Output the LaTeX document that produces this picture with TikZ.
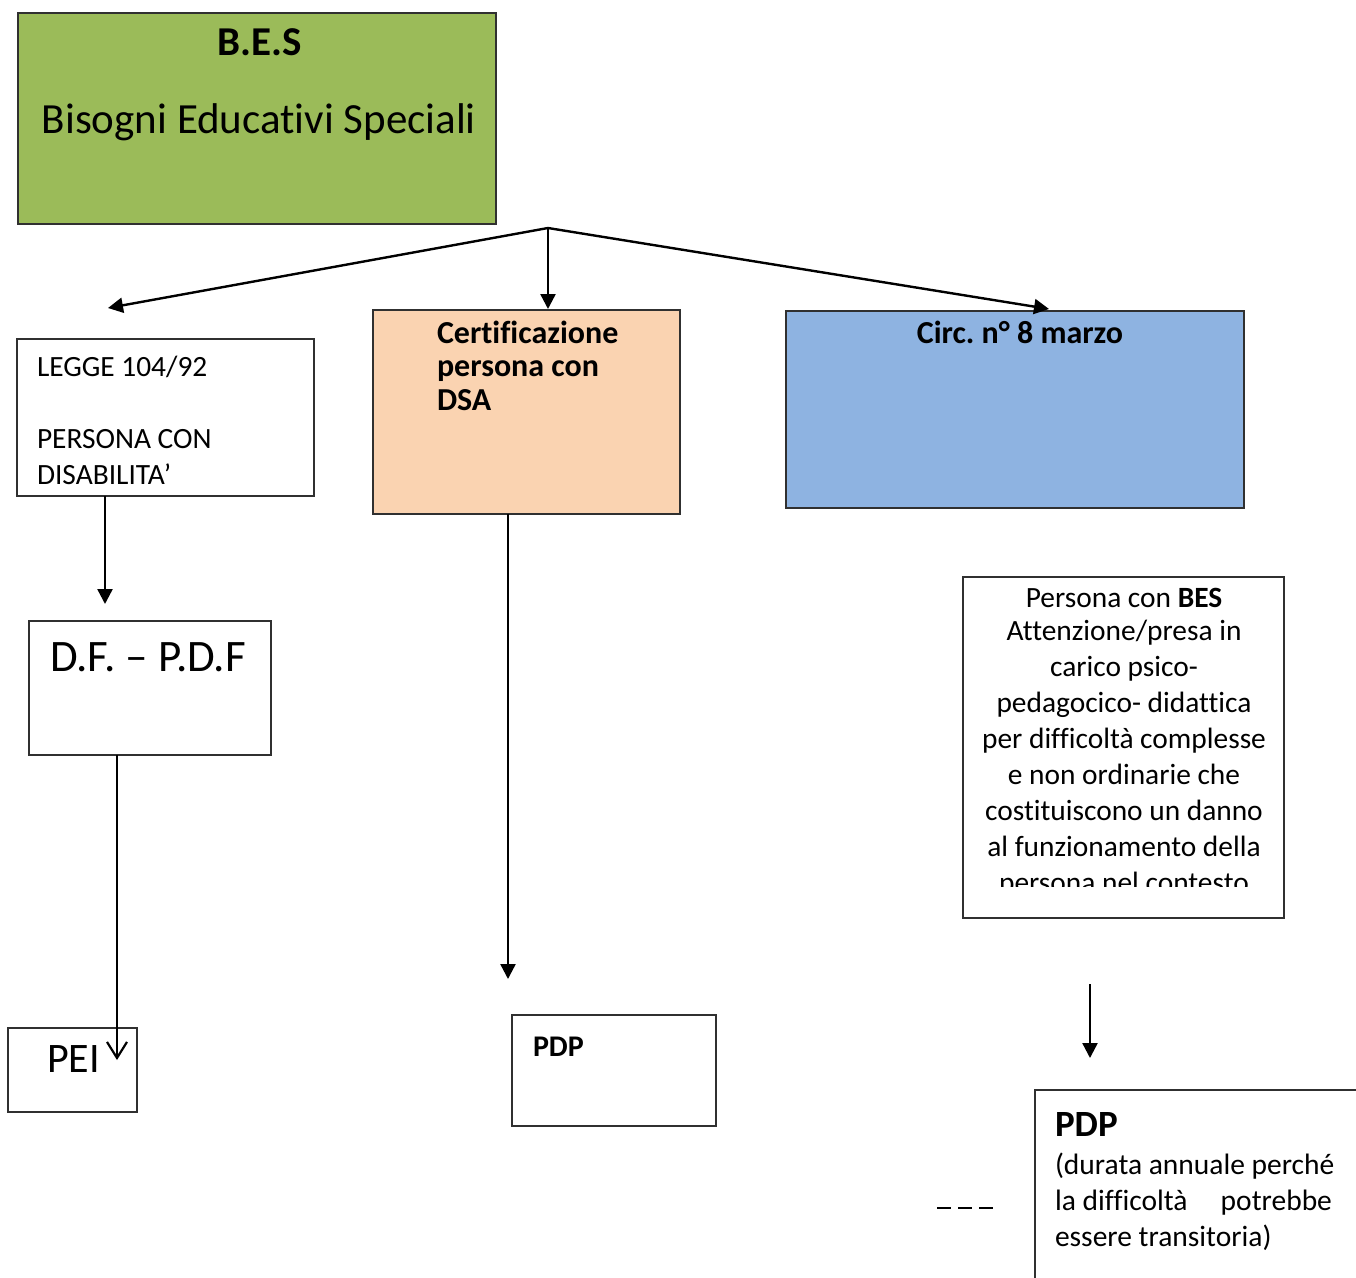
\documentclass[tikz,border=0pt]{standalone}
\usepackage{fontspec}
\setmainfont{Carlito}[Ligatures=NoCommon]
\usetikzlibrary{arrows.meta}
\definecolor{besgreen}{HTML}{9BBB59}
\definecolor{dsapeach}{HTML}{FAD3B1}
\definecolor{circblue}{HTML}{8EB3E1}
\definecolor{edge}{HTML}{303030}
\newcommand{\fsz}[2]{\fontsize{#1}{#2}\selectfont\frenchspacing}
\frenchspacing
\begin{document}
\begin{tikzpicture}[x=1pt,y=-1pt,
  box/.style={draw=edge, line width=1.3pt, inner sep=0pt, outer sep=0pt, anchor=north west},
  txt/.style={inner sep=0pt, outer sep=0pt},
  arr/.style={line width=2.4pt, -{Triangle[length=15pt,width=15pt]}},
  openarr/.style={line width=2.4pt, -{Straight Barb[length=16pt,width=20pt,line width=2.2pt]}}]
\useasboundingbox (0,0) rectangle (1356,1277);
\fill[white] (0,0) rectangle (1356,1277);

% boxes
\node[box, fill=besgreen, minimum width=478pt, minimum height=211pt] (bes) at (18,13) {};
\node[box, minimum width=297pt, minimum height=157pt] (legge) at (17,339) {};
\node[box, fill=dsapeach, minimum width=307pt, minimum height=204pt] (cert) at (373,310) {};
\node[box, fill=circblue, minimum width=458pt, minimum height=197pt] (circ) at (786,311) {};
\node[box, minimum width=321pt, minimum height=341pt] (pers) at (963,577) {};
\node[box, minimum width=242pt, minimum height=134pt] (df) at (29,621) {};
\node[box, minimum width=129pt, minimum height=84pt] (pei) at (8,1028) {};
\node[box, minimum width=204pt, minimum height=111pt] (pdpa) at (512,1015) {};
\node[box, minimum width=400pt, minimum height=300pt] (pdpb) at (1035,1090) {};

% texts
\node[txt, anchor=base, font=\fsz{41}{46}\bfseries] (tbes) at (260,55) {B.E.S};
\node[txt, anchor=base, font=\fsz{43}{50}] (tbes2) at (259,133) {Bisogni Educativi Speciali};
\node[txt, anchor=north west, align=left, font=\fsz{29.4}{36}] (tlegge) at (37,356)
  {LEGGE 104/92\\[36pt]PERSONA CON\\DISABILITA’};
\node[txt, anchor=north west, align=left, font=\fsz{32}{33.5}\bfseries] (tcert) at (437,321)
  {Certificazione\\persona con\\DSA};
\node[txt, anchor=base, font=\fsz{32}{38}\bfseries] (tcirc) at (1020,343) {Circ. n° 8 marzo};
\node[txt, anchor=base west, font=\fsz{45}{52}] (tdf) at (50,671) {D.F. – P.D.F};
\node[txt, anchor=base west, font=\fsz{42}{50}] (tpei) at (47,1072) {PEI};
\node[txt, anchor=base west, font=\fsz{30}{36}\bfseries] (tpdpa) at (533,1056) {PDP};
\begin{scope}
\clip (963,577) rectangle (1284,886);
\node[txt, anchor=north, align=center, font=\fsz{29.4}{36}] (tpers) at (1124,588)
  {Persona con \textbf{BES}\\[-3pt]Attenzione/presa in\\carico psico-\\pedagocico- didattica\\per difficoltà complesse\\e non ordinarie che\\costituiscono un danno\\al funzionamento della\\persona nel contesto};
\end{scope}
\node[txt, anchor=base west, font=\fsz{37}{44}\bfseries] (tpdpb) at (1055,1136) {PDP};
\node[txt, anchor=north west, align=left, font=\fsz{29.5}{36}] (tpdpb2) at (1055,1153)
  {(durata annuale perché\\\hbox to 277pt{la difficoltà\hfill potrebbe}\\essere transitoria)};

% connectors
\coordinate (split) at (548,228);
\coordinate (lt) at (108,308);
\coordinate (free1) at (1090,984);
\coordinate (free2) at (1090,1058);
\coordinate (dsh1) at (937,1208);
\coordinate (dsh2) at (995,1208);
\draw[arr] (split) -- (lt);
\draw[arr] (split) -- (548,309);
\draw[arr] (split) -- (1049,309);
\draw[arr] (legge.south -| 105,0) -- (105,604);
\draw[arr] (cert.south -| 508,0) -- (508,979);
\draw[openarr] (df.south -| 117,0) -- (117,1060);
\draw[arr] (free1) -- (free2);
\draw[line width=2pt, dash pattern=on 14pt off 7pt] (dsh1) -- (dsh2);
\end{tikzpicture}
\end{document}
